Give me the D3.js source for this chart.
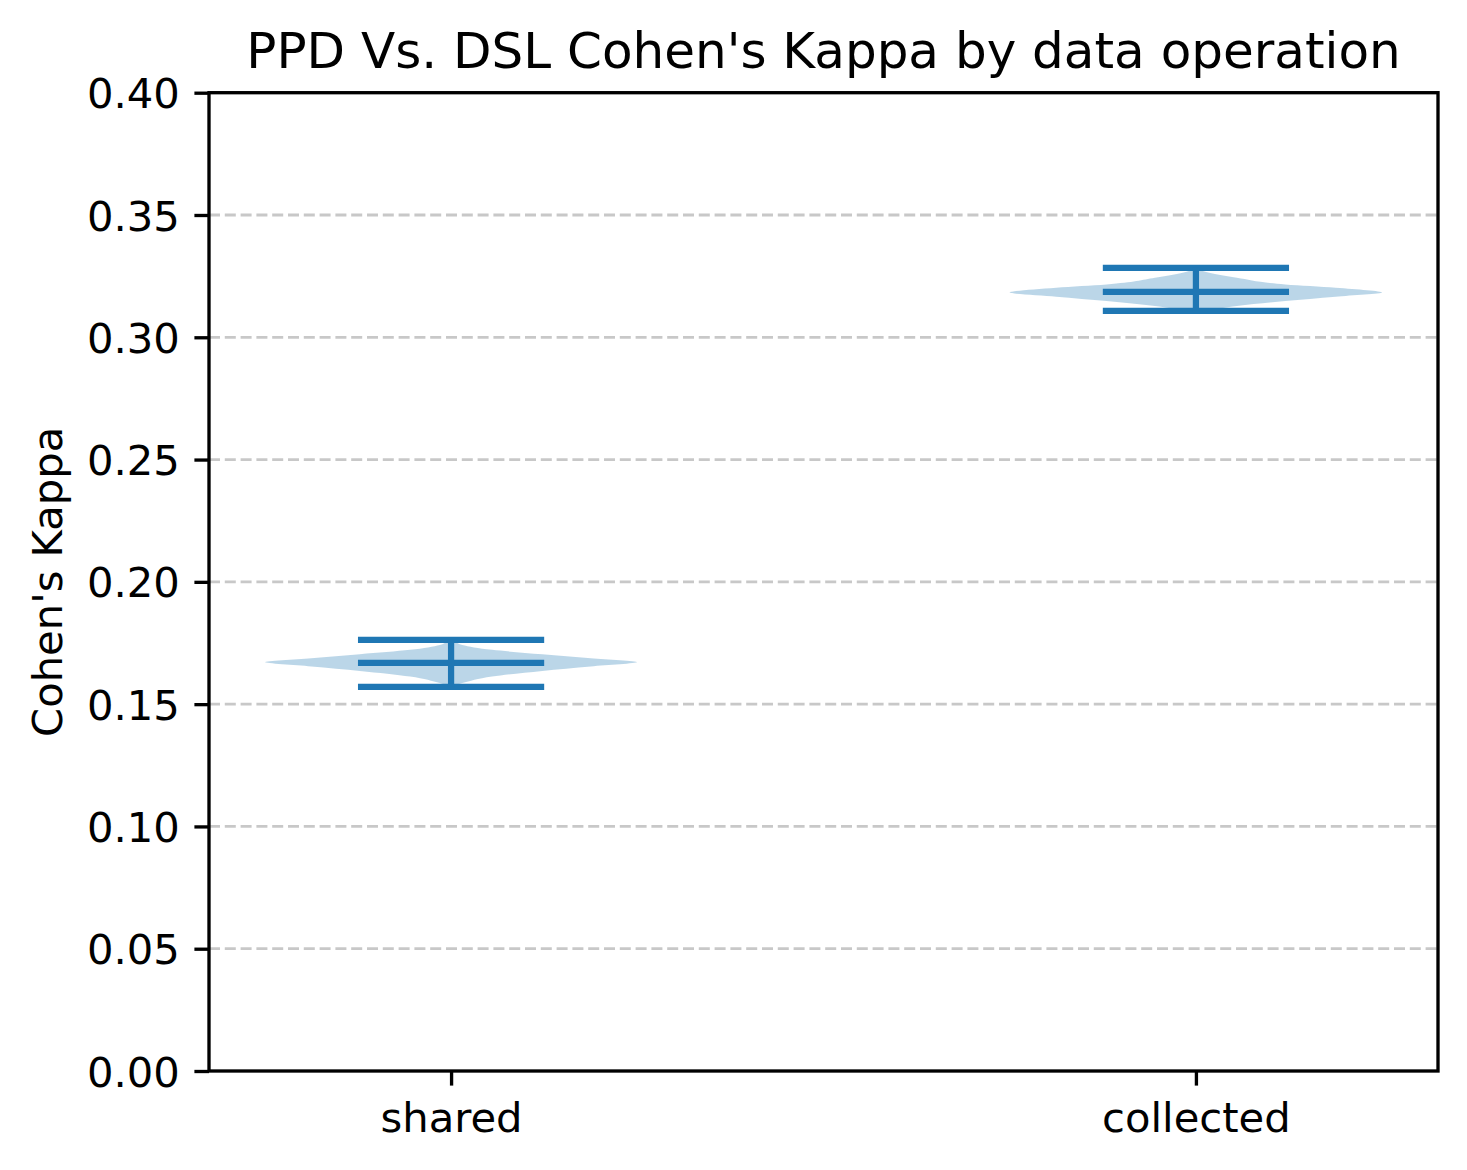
<!DOCTYPE html>
<html>
<head>
<meta charset="utf-8">
<script src="https://cdn.jsdelivr.net/npm/d3@7"></script>
<style>
  body { margin: 0; background: #fff; }
  text { font-family: "DejaVu Sans", sans-serif; fill: #000; }
</style>
</head>
<body>
<div id="chart"></div>
<script>
// categories and positions
const categories = ["shared", "collected"];
const positions = [1, 2];

// summary stats
const kappaMax = [0.1763, 0.3284];
const kappaMedian = [0.1669, 0.3186];
const kappaMin = [0.1571, 0.3108];

// violin outline: kappa values and relative half-widths (1 = widest)
const sharedKappa = [0.1763, 0.1755, 0.1742, 0.1722, 0.1704, 0.1688, 0.1672, 0.1654, 0.1636, 0.1613, 0.1586, 0.1571];
const sharedWidth = [0, 0.02, 0.06, 0.22, 0.49, 0.75, 1.0, 0.75, 0.49, 0.22, 0.06, 0];
const collectedKappa = [0.3284, 0.3268, 0.3243, 0.3216, 0.3203, 0.3183, 0.3166, 0.3148, 0.3128, 0.3111, 0.3108];
const collectedWidth = [0, 0.05, 0.22, 0.48, 0.75, 1.0, 0.75, 0.48, 0.22, 0.05, 0];

const yTicks = [0, 0.05, 0.10, 0.15, 0.20, 0.25, 0.30, 0.35, 0.40];

const width = 1467, height = 1170;
const margin = { top: 92.7, right: 29, bottom: 99, left: 209 };
const blue = "#1f77b4";

const svg = d3.select("#chart").append("svg")
    .attr("width", width)
    .attr("height", height);

const x = d3.scaleLinear()
    .domain([0.675, 2.325])
    .range([margin.left, width - margin.right]);

const y = d3.scaleLinear()
    .domain([0, 0.4])
    .range([height - margin.bottom, margin.top]);

// grid lines
svg.append("g")
    .selectAll("line")
    .data(yTicks.filter(d => d > 0 && d < 0.4))
    .join("line")
    .attr("x1", margin.left)
    .attr("x2", width - margin.right)
    .attr("y1", d => y(d))
    .attr("y2", d => y(d))
    .attr("stroke", "#b0b0b0")
    .attr("stroke-opacity", 0.7)
    .attr("stroke-width", 2.8)
    .attr("stroke-dasharray", "11,4.8");

// violin bodies
const violins = [
    { pos: positions[0], pts: sharedKappa.map((k, i) => ({ k, w: sharedWidth[i] })) },
    { pos: positions[1], pts: collectedKappa.map((k, i) => ({ k, w: collectedWidth[i] })) }
];

violins.forEach(v => {
    const area = d3.area()
        .y(d => y(d.k))
        .x0(d => x(v.pos - d.w * 0.25))
        .x1(d => x(v.pos + d.w * 0.25))
        .curve(d3.curveMonotoneY);
    svg.append("path")
        .datum(v.pts.slice().reverse())
        .attr("d", area)
        .attr("fill", blue)
        .attr("fill-opacity", 0.3);
});

// extrema, median and vertical bars
const lines = svg.append("g")
    .attr("stroke", blue)
    .attr("stroke-width", 6.25);

positions.forEach((p, i) => {
    [kappaMax[i], kappaMin[i], kappaMedian[i]].forEach(v => {
        lines.append("line")
            .attr("x1", x(p - 0.125))
            .attr("x2", x(p + 0.125))
            .attr("y1", y(v))
            .attr("y2", y(v));
    });
    lines.append("line")
        .attr("x1", x(p))
        .attr("x2", x(p))
        .attr("y1", y(kappaMin[i]))
        .attr("y2", y(kappaMax[i]));
});

// axes
const yAxis = svg.append("g")
    .attr("transform", `translate(${margin.left},0)`)
    .call(d3.axisLeft(y).tickValues(yTicks).tickFormat(d3.format(".2f"))
        .tickSize(14.6).tickPadding(14.6));

const xAxis = svg.append("g")
    .attr("transform", `translate(0,${height - margin.bottom})`)
    .call(d3.axisBottom(x).tickValues(positions).tickFormat((d, i) => categories[i])
        .tickSize(14.6).tickPadding(14.6));

[xAxis, yAxis].forEach(a => {
    a.select(".domain").remove();
    a.selectAll(".tick line").attr("stroke", "#000").attr("stroke-width", 3.33);
    a.selectAll(".tick text")
        .attr("font-family", "DejaVu Sans")
        .attr("font-size", 41.7)
        .attr("fill", "#000");
});
yAxis.selectAll(".tick text").attr("dy", "0.36em");
xAxis.selectAll(".tick text").attr("dy", "0.76em");

// frame
svg.append("rect")
    .attr("x", margin.left)
    .attr("y", margin.top)
    .attr("width", width - margin.left - margin.right)
    .attr("height", height - margin.top - margin.bottom)
    .attr("fill", "none")
    .attr("stroke", "#000")
    .attr("stroke-width", 3.33);

// title and label
svg.append("text")
    .attr("x", (margin.left + width - margin.right) / 2)
    .attr("y", 68.3)
    .attr("text-anchor", "middle")
    .attr("font-size", 50)
    .text("PPD Vs. DSL Cohen's Kappa by data operation");

svg.append("text")
    .attr("transform", `translate(62,${(margin.top + height - margin.bottom) / 2}) rotate(-90)`)
    .attr("text-anchor", "middle")
    .attr("font-size", 41.7)
    .text("Cohen's Kappa");
</script>
</body>
</html>
